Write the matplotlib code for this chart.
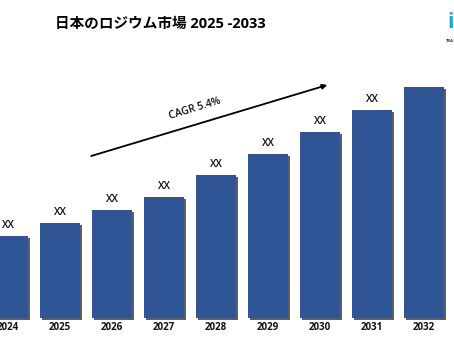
import numpy as np
import matplotlib.pyplot as plt

plt.rcParams['font.family'] = ['Open Sans', 'Noto Sans CJK JP', 'DejaVu Sans']

years = ['2024', '2025', '2026', '2027', '2028', '2029', '2030', '2031', '2032']
values = [82, 95, 108, 121, 143, 164, 186, 208, 231]
labels = ['XX', 'XX', 'XX', 'XX', 'XX', 'XX', 'XX', 'XX', '']
title = '日本のロジウム市場 2025 -2033'
cagr = 'CAGR 5.4%'

bar_color = '#2f5597'
x = np.arange(len(years))

fig = plt.figure(figsize=(4.54, 3.41), dpi=100)
ax = fig.add_axes([0, 0, 1, 1])
ax.set_xlim(-0.154, 8.577)
ax.set_ylim(-23, 318)
ax.axis('off')

# drop shadow behind each bar
ax.bar(x + 0.035, values, width=0.77, bottom=-2, color='#1a1a1a', alpha=0.7, zorder=1)
ax.bar(x, values, width=0.77, color=bar_color, zorder=2)

for xi, v, lab, yr in zip(x, values, labels, years):
    if lab:
        ax.text(xi, v + 5, lab, ha='center', va='bottom', fontsize=7.5,
                fontweight='semibold', color='#111111')
    ax.text(xi, -9, yr, ha='center', va='center', fontsize=7,
            fontweight='bold', color='#111111')

ax.annotate('', xy=(6.14, 233), xytext=(1.6, 162),
            arrowprops=dict(arrowstyle='-|>', color='black', lw=1.3,
                            mutation_scale=7, shrinkA=0, shrinkB=0))
ax.text(3.6, 209, cagr, rotation=17, ha='center', va='center',
        fontsize=7.5, fontweight='semibold', color='#111111')

fig.text(0.121, 0.93, title, fontsize=10.5, fontweight='bold',
         family=['Open Sans', 'Noto Sans CJK JP', 'DejaVu Sans'],
         ha='left', va='center')

# partial company logo in the top right corner
fig.text(0.985, 0.935, 'i', fontsize=15, fontweight='bold', color='#1ca3dd',
         ha='left', va='center')
fig.text(0.982, 0.885, 'TRA', fontsize=3, fontweight='bold', color='#333333',
         ha='left', va='top')

fig.savefig('out.png', dpi=100)
